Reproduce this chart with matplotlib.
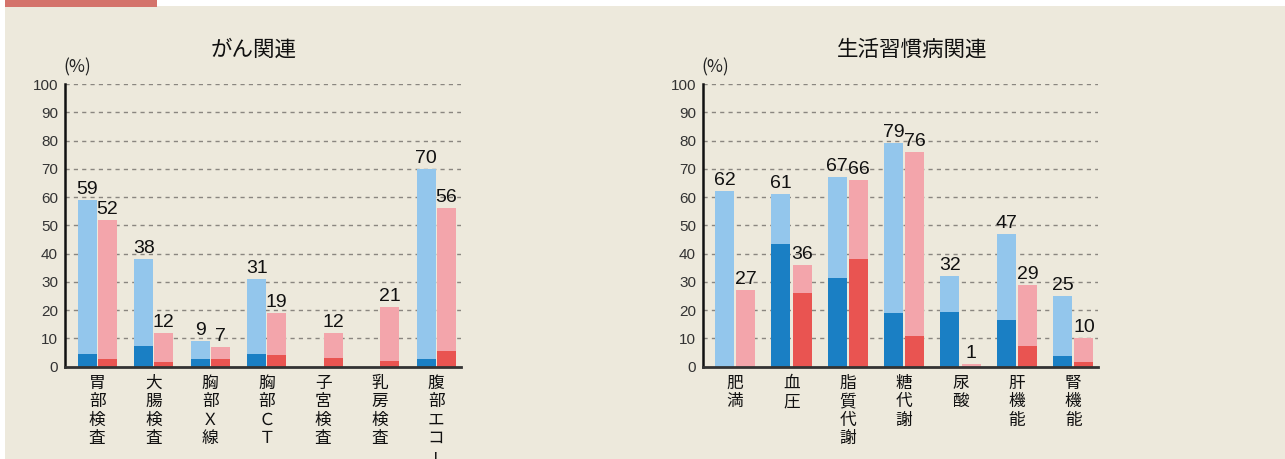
import matplotlib.pyplot as plt
import matplotlib.patches as patches
import numpy as np

plt.rcParams['font.family'] = ['Noto Sans CJK JP', 'DejaVu Sans']

# がん関連
cancer_cats = ['胃部検査', '大腸検査', '胸部Ｘ線', '胸部ＣＴ', '子宮検査', '乳房検査', '腹部エコー']
cancer_blue = [59, 38, 9, 31, 0, 0, 70]
cancer_blue_dark = [4.5, 7.3, 2.7, 4.5, 0, 0, 2.7]
cancer_pink = [52, 12, 7, 19, 12, 21, 56]
cancer_pink_dark = [2.7, 1.6, 2.7, 4.1, 3.1, 2.0, 5.5]

# 生活習慣病関連
life_cats = ['肥満', '血圧', '脂質代謝', '糖代謝', '尿酸', '肝機能', '腎機能']
life_blue = [62, 61, 67, 79, 32, 47, 25]
life_blue_dark = [0, 43.3, 31.3, 18.9, 19.3, 16.5, 3.8]
life_pink = [27, 36, 66, 76, 1, 29, 10]
life_pink_dark = [0, 26.0, 38.0, 10.8, 0, 7.3, 1.6]

c_blue = '#93c6ec'
c_blue_dk = '#1a7fc4'
c_pink = '#f3a5ab'
c_red = '#e95451'
bg = '#ede9dc'

fig = plt.figure(figsize=(12.85, 4.59), dpi=100)
fig.patch.set_facecolor('white')
# beige panel and red tab
fig.patches.append(patches.Rectangle((5 / 1285, 0), 1, 1 - 6 / 459, transform=fig.transFigure,
                                     facecolor=bg, edgecolor='none', zorder=-10))
fig.patches.append(patches.Rectangle((5 / 1285, 1 - 7 / 459), 152 / 1285, 7 / 459, transform=fig.transFigure,
                                     facecolor='#d4736b', edgecolor='none', zorder=-9))


def draw(ax, title, title_dx, cats, blue, blue_dk, pink, pink_dk, off):
    x = np.arange(len(cats))
    w = 0.337
    ax.set_facecolor(bg)
    for yy in range(10, 101, 10):
        ax.axhline(yy, color='#8a8680', lw=1.0, ls=(0, (3, 3)), zorder=0)
    ax.bar(x - off, blue, w, color=c_blue, zorder=2)
    ax.bar(x - off, blue_dk, w, color=c_blue_dk, zorder=3)
    ax.bar(x + off, pink, w, color=c_pink, zorder=2)
    ax.bar(x + off, pink_dk, w, color=c_red, zorder=3)
    for i in range(len(cats)):
        if blue[i] > 0:
            ax.annotate(str(blue[i]), (x[i] - off, blue[i]), xytext=(0, 1.5), textcoords='offset points',
                        ha='center', va='bottom', fontsize=14, family='Liberation Sans', color='#111111')
        ax.annotate(str(pink[i]), (x[i] + off, pink[i]), xytext=(0, 1.5), textcoords='offset points',
                    ha='center', va='bottom', fontsize=14, family='Liberation Sans', color='#111111')
        # vertical category labels, one character per line
        for k, ch in enumerate(cats[i]):
            ax.annotate(ch, (x[i], 0), xytext=(0, -6 - k * 13.2), textcoords='offset points',
                        ha='center', va='top', fontsize=12, color='#111111',
                        rotation=90 if ch == 'ー' else 0, annotation_clip=False)
    ax.set_xlim(-0.57, 6.44)
    ax.set_ylim(0, 100)
    ax.set_yticks(range(0, 101, 10))
    ax.set_xticks([])
    ax.tick_params(axis='y', length=0, pad=5, labelsize=11, labelcolor='#333333')
    for lab in ax.get_yticklabels():
        lab.set_family('Liberation Sans')
    for s in ['top', 'right']:
        ax.spines[s].set_visible(False)
    ax.spines['left'].set_linewidth(1.8)
    ax.spines['left'].set_color('#111111')
    ax.spines['bottom'].set_linewidth(2.0)
    ax.spines['bottom'].set_color('#333333')
    ax.spines['bottom'].set_zorder(5)
    ax.text(0.5 + title_dx, 1.12, title, transform=ax.transAxes, ha='center', va='center',
            fontsize=15.5, color='#111111')
    ax.text(-0.005, 1.025, '(%)', transform=ax.transAxes, ha='left', va='bottom',
            fontsize=12.5, color='#222222')


ax1 = fig.add_axes([65 / 1285, 92.3 / 459, 396 / 1285, 282.7 / 459])
ax2 = fig.add_axes([703 / 1285, 92.3 / 459, 395 / 1285, 282.7 / 459])
draw(ax1, 'がん関連', -0.023, cancer_cats, cancer_blue, cancer_blue_dark, cancer_pink, cancer_pink_dark, 0.178)
draw(ax2, '生活習慣病関連', 0.03, life_cats, life_blue, life_blue_dark, life_pink, life_pink_dark, 0.19)

fig.savefig('out.png', dpi=100, facecolor=fig.get_facecolor())
